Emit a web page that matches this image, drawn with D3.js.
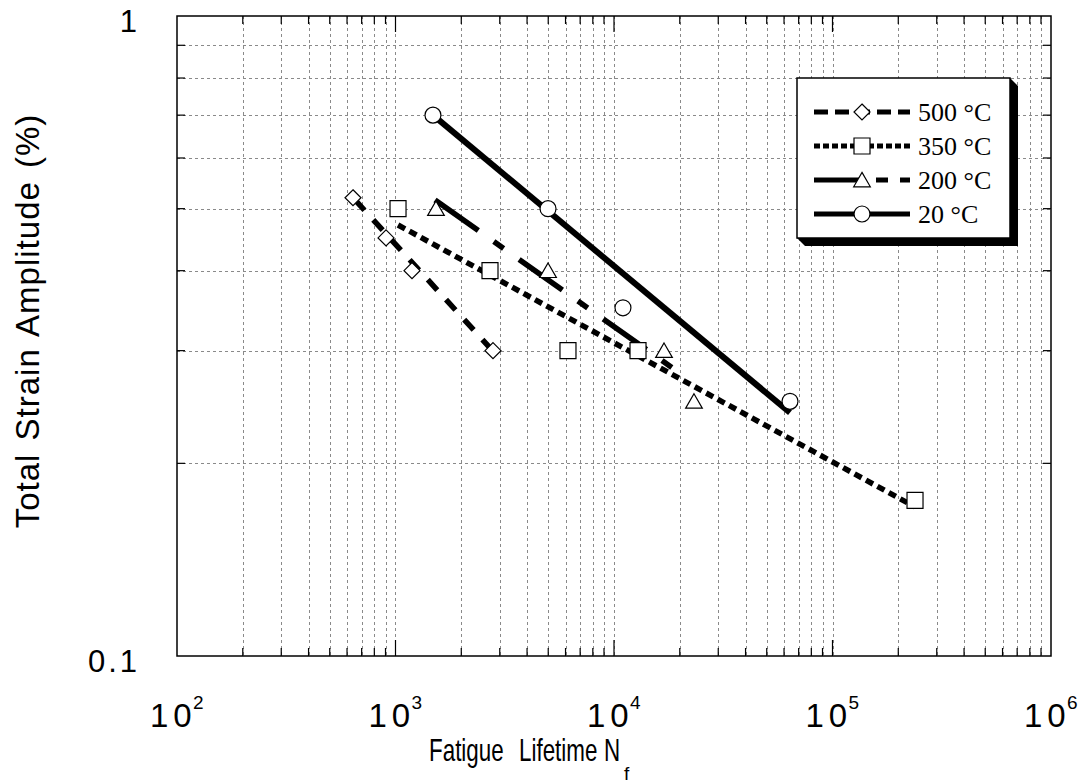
<!DOCTYPE html>
<html><head><meta charset="utf-8">
<script src="https://cdn.jsdelivr.net/npm/d3@7"></script>
<style>body{margin:0;background:#fff}svg{display:block}</style>
</head><body><svg id="c" width="1083" height="784"></svg>
<script>
// ---- data ----
const seriesNames = ["500 °C", "350 °C", "200 °C", "20 °C"];
const life500 = [639, 905, 1190, 2794];
const amp500  = [0.52, 0.45, 0.40, 0.30];
const life350 = [1027, 2707, 6157, 12880, 238600];
const amp350  = [0.50, 0.40, 0.30, 0.30, 0.175];
const life200 = [1532, 4990, 16940, 23230];
const amp200  = [0.50, 0.40, 0.30, 0.25];
const life20  = [1484, 4990, 10990, 63900];
const amp20   = [0.70, 0.50, 0.35, 0.25];
// fitted lines (end points)
const fitLife500 = [653, 2707],   fitAmp500 = [0.516, 0.303];
const fitLife350 = [1027, 238600], fitAmp350 = [0.4715, 0.171];
const fitLife200 = [1517, 19630], fitAmp200 = [0.516, 0.278];
const fitLife20  = [1484, 63900], fitAmp20  = [0.70, 0.24];
const xTickExp = [2, 3, 4, 5, 6];
const yTickLabels = [{v: 0.1, t: "0.1"}, {v: 1, t: "1"}];

// ---- layout ----
const svg = d3.select("#c");
const L = 177, R = 1051, T = 16, B = 656;
const x = d3.scaleLog().domain([1e2, 1e6]).range([L, R]);
const y = d3.scaleLog().domain([0.1, 1]).range([B, T]);
const SANS = "'Liberation Sans', Arial, Helvetica, sans-serif";
const SERIF = "'Liberation Serif', 'Times New Roman', serif";

const xMinor = [];
for (let e = 2; e < 6; e++) for (let m = 2; m <= 9; m++) xMinor.push(m * Math.pow(10, e));
const xMajor = [1e3, 1e4, 1e5];
const yMinor = [0.2, 0.3, 0.4, 0.5, 0.6, 0.7, 0.8, 0.9];

// grid
const grid = svg.append("g").attr("stroke", "#8a8a8a").attr("stroke-width", 1).attr("stroke-dasharray", "3,3");
grid.selectAll("line.v").data(xMinor.concat(xMajor)).join("line")
  .attr("x1", d => Math.round(x(d)) + 0.5).attr("x2", d => Math.round(x(d)) + 0.5)
  .attr("y1", T).attr("y2", B);
grid.selectAll("line.h").data(yMinor).join("line")
  .attr("y1", d => Math.round(y(d)) + 0.5).attr("y2", d => Math.round(y(d)) + 0.5)
  .attr("x1", L).attr("x2", R);

// series styles
const diamond = {draw(ctx, size) { const r = Math.sqrt(size / 2); ctx.moveTo(0, -r); ctx.lineTo(r, 0); ctx.lineTo(0, r); ctx.lineTo(-r, 0); ctx.closePath(); }};
const styles = [
  {life: life500, amp: amp500, fl: fitLife500, fa: fitAmp500, dash: "14,13", w: 5.5, sym: diamond, size: 128, dy: 0, ldash: "14,7"},
  {life: life350, amp: amp350, fl: fitLife350, fa: fitAmp350, dash: "8,5", w: 5.5, sym: d3.symbolSquare, size: 256, dy: 0, ldash: "6,3"},
  {life: life200, amp: amp200, fl: fitLife200, fa: fitAmp200, dash: "53,19,12,19", w: 5.5, sym: d3.symbolTriangle, size: 120, dy: 2, ldash: "50,12,12,12,12"},
  {life: life20, amp: amp20, fl: fitLife20, fa: fitAmp20, dash: null, w: 6, sym: d3.symbolCircle, size: 200, dy: 0, ldash: null}
];

const line = d3.line().x(d => x(d[0])).y(d => y(d[1]));
styles.forEach(s => {
  const pts = s.fl.map((v, k) => [v, s.fa[k]]);
  svg.append("path").attr("d", line(pts)).attr("fill", "none")
    .attr("stroke", "#000").attr("stroke-width", s.w)
    .attr("stroke-dasharray", s.dash);
});
styles.forEach(s => {
  svg.append("g").selectAll("path").data(s.life.map((v, k) => [v, s.amp[k]])).join("path")
    .attr("transform", d => `translate(${x(d[0])},${y(d[1]) + s.dy})`)
    .attr("d", d3.symbol(s.sym, s.size))
    .attr("fill", "#fff").attr("stroke", "#000").attr("stroke-width", 1.2);
});

// frame
svg.append("rect").attr("x", L).attr("y", T).attr("width", R - L).attr("height", B - T)
  .attr("fill", "none").attr("stroke", "#000").attr("stroke-width", 1.5);

// ticks
const tk = svg.append("g").attr("stroke", "#000").attr("stroke-width", 1.2);
xMinor.forEach(v => {
  tk.append("line").attr("x1", x(v)).attr("x2", x(v)).attr("y1", B).attr("y2", B - 8);
  tk.append("line").attr("x1", x(v)).attr("x2", x(v)).attr("y1", T).attr("y2", T + 8);
});
xMajor.forEach(v => {
  tk.append("line").attr("x1", x(v)).attr("x2", x(v)).attr("y1", B).attr("y2", B - 16);
  tk.append("line").attr("x1", x(v)).attr("x2", x(v)).attr("y1", T).attr("y2", T + 16);
});
yMinor.forEach(v => {
  tk.append("line").attr("y1", y(v)).attr("y2", y(v)).attr("x1", L).attr("x2", L + 8);
  tk.append("line").attr("y1", y(v)).attr("y2", y(v)).attr("x1", R).attr("x2", R - 8);
});

// tick labels
xTickExp.forEach(e => {
  const cx = x(Math.pow(10, e));
  svg.append("text").attr("x", cx - 27).attr("y", 727).attr("dx", "0 5")
    .attr("font-family", SANS).attr("font-size", 33).text("10");
  svg.append("text").attr("x", cx + 16).attr("y", 709)
    .attr("font-family", SANS).attr("font-size", 19).text(String(e));
});
yTickLabels.forEach(d => {
  svg.append("text").attr("x", 140).attr("y", y(d.v) + 16).attr("text-anchor", "end")
    .attr("font-family", SANS).attr("font-size", 31).attr("letter-spacing", 3).text(d.t);
});

// axis titles
[{t: "Fatigue", x: 429}, {t: "Lifetime", x: 519}, {t: "N", x: 604}].forEach(w => {
  svg.append("text").attr("transform", `translate(${w.x},761) scale(0.7,1)`)
    .attr("font-family", SANS).attr("font-size", 32).text(w.t);
});
svg.append("text").attr("x", 624).attr("y", 780).attr("font-family", SANS).attr("font-size", 19).text("f");

svg.append("text").attr("transform", "translate(39,321) rotate(-90)").attr("text-anchor", "middle")
  .attr("font-family", SANS).attr("font-size", 33).attr("letter-spacing", 1).attr("word-spacing", 3)
  .text("Total Strain Amplitude (%)");

// legend
const lg = svg.append("g");
const bx = 797, by = 78, bw = 213, bh = 160, off = 8;
lg.append("polygon").attr("points",
  [[bx + bw, by], [bx + bw + off, by + off], [bx + bw + off, by + bh + off], [bx + off, by + bh + off], [bx, by + bh]].map(p => p.join(",")).join(" "))
  .attr("fill", "#000");
lg.append("rect").attr("x", bx).attr("y", by).attr("width", bw).attr("height", bh)
  .attr("fill", "#fff").attr("stroke", "#000").attr("stroke-width", 1.5);
const ly = [112, 146, 180, 214];
styles.forEach((s, i) => {
  lg.append("line").attr("x1", 814).attr("x2", 910).attr("y1", ly[i]).attr("y2", ly[i])
    .attr("stroke", "#000").attr("stroke-width", 5).attr("stroke-dasharray", s.ldash);
  lg.append("path").attr("transform", `translate(862,${ly[i] + s.dy})`)
    .attr("d", d3.symbol(s.sym, s.size))
    .attr("fill", "#fff").attr("stroke", "#000").attr("stroke-width", 1.2);
  lg.append("text").attr("x", 918).attr("y", ly[i] + 9).attr("font-family", SERIF)
    .attr("font-size", 26).text(seriesNames[i]);
});
</script></body></html>
